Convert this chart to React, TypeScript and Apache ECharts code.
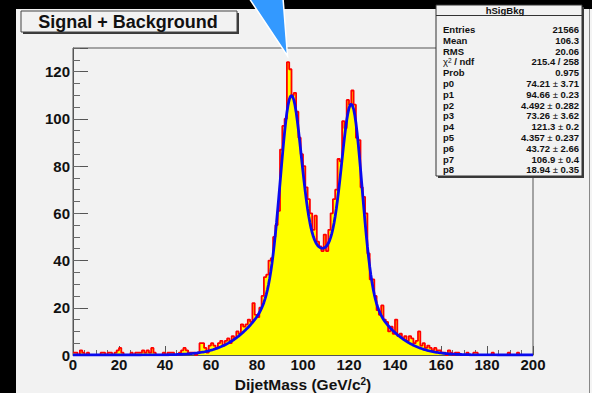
import React, { useEffect, useRef } from "react";
import * as echarts from "echarts";

// DijetMass histogram: 200 bins of 1 GeV/c^2 from 0 to 200
const binEdgesLow = 0;
const binWidth = 1;
const counts: number[] = [
  1, 1, 0, 2, 1, 0, 1, 0, 0, 0,
  0, 0, 1, 1, 0, 1, 1, 0, 1, 2,
  3, 1, 0, 0, 0, 1, 0, 1, 1, 1,
  2, 1, 2, 1, 3, 1, 0, 0, 0, 1,
  0, 1, 1, 1, 0, 0, 1, 2, 3, 2,
  1, 1, 1, 0, 1, 5, 5, 3, 1, 4,
  5, 4, 3, 5, 6, 4, 6, 7, 5, 8,
  7, 10, 9, 13, 12, 13, 15, 14, 22, 17,
  16, 20, 25, 33, 34, 40, 41, 50, 55, 61,
  87, 97, 100, 124, 121, 110, 111, 103, 92, 85,
  80, 71, 66, 60, 53, 59, 48, 46, 44, 51,
  44, 53, 60, 66, 70, 83, 82, 99, 96, 108,
  106, 112, 106, 92, 91, 71, 67, 60, 43, 32,
  32, 25, 19, 17, 21, 15, 14, 10, 12, 9,
  15, 8, 9, 7, 8, 6, 8, 7, 5, 6,
  10, 4, 5, 3, 4, 3, 2, 3, 2, 2,
  1, 1, 0, 2, 1, 0, 1, 1, 0, 0,
  0, 1, 0, 0, 1, 1, 0, 0, 0, 0,
  0, 0, 1, 0, 0, 0, 0, 0, 0, 1,
  0, 0, 0, 1, 0, 0, 0, 0, 0, 0,
];

// fitted parameters (two signal Gaussians + broad background Gaussian)
const fitParams = [74.21, 94.66, 4.492, 73.26, 121.3, 4.357, 43.72, 106.9, 18.94];
const fitStep = 0.5;

const statsTitle = "hSigBkg";
const statsNames = ["Entries", "Mean", "RMS", "chi2", "Prob", "p0", "p1", "p2", "p3", "p4", "p5", "p6", "p7", "p8"];
const statsValues = [
  "21566", "106.3", "20.06", "215.4 / 258", "0.975",
  "74.21 ± 3.71", "94.66 ± 0.23", "4.492 ± 0.282", "73.26 ± 3.62", "121.3 ± 0.2",
  "4.357 ± 0.237", "43.72 ± 2.66", "106.9 ± 0.4", "18.94 ± 0.35",
];

const xMin = 0;
const xMax = 200;
const yMin = 0;
const yMax = 130;

const FONT = "'Liberation Sans', Arial, Helvetica, sans-serif";

function gaus(x: number, a: number, m: number, s: number) {
  const z = (x - m) / s;
  return a * Math.exp(-0.5 * z * z);
}

function fitValue(x: number) {
  const p = fitParams;
  return gaus(x, p[0], p[1], p[2]) + gaus(x, p[3], p[4], p[5]) + gaus(x, p[6], p[7], p[8]);
}

function richStatValue(v: string) {
  const parts = v.split(" ± ");
  if (parts.length === 2) return `{b|${parts[0]}}{pm| ± }{b|${parts[1]}}`;
  return `{b|${v}}`;
}

export default function App() {
  const ref = useRef<HTMLDivElement>(null);

  useEffect(() => {
    document.body.style.margin = "0";
    if (!ref.current) return;
    const chart = echarts.init(ref.current, null, { renderer: "svg" });

    // histogram outline as step line through left bin edges
    const histData: number[][] = counts.map((c, i) => [binEdgesLow + i * binWidth, c]);
    histData.push([binEdgesLow + counts.length * binWidth, counts[counts.length - 1]]);

    const fitData: number[][] = [];
    for (let x = xMin; x <= xMax + 1e-9; x += fitStep) fitData.push([x, fitValue(x)]);

    // stats panel
    const boxX = 436;
    const boxY = 5;
    const boxW = 146;
    const rowH = 10.8;
    const firstRow = 29.5;
    const boxH = 171;
    const statEls: any[] = [
      { type: "rect", shape: { x: boxX + 2, y: boxY + 2, width: boxW, height: boxH }, style: { fill: "#3a3a3a" }, z: 100 },
      { type: "rect", shape: { x: boxX, y: boxY, width: boxW, height: boxH }, style: { fill: "#f2f2f2", stroke: "#333", lineWidth: 1 }, z: 101 },
      { type: "line", shape: { x1: boxX, y1: 15.5, x2: boxX + boxW, y2: 15.5 }, style: { stroke: "#333", lineWidth: 1 }, z: 102 },
      {
        type: "text", x: 505, y: 10.5, z: 103,
        style: { text: statsTitle, font: `bold 9.5px ${FONT}`, fill: "#111", align: "center", verticalAlign: "middle" },
      },
    ];
    statsNames.forEach((name, i) => {
      const y = firstRow + i * rowH;
      const label = name === "chi2" ? "{chi|χ}{sup|2}{b| / ndf}" : `{b|${name}}`;
      statEls.push({
        type: "text", x: 443, y, z: 103,
        style: {
          text: label, align: "left", verticalAlign: "middle", fill: "#111",
          rich: {
            b: { font: `bold 9.5px ${FONT}`, fill: "#111" },
            chi: { font: `9.5px ${FONT}`, fill: "#111" },
            sup: { font: `6.5px ${FONT}`, fill: "#111", verticalAlign: "top" },
          },
        },
      });
      statEls.push({
        type: "text", x: 579, y, z: 103,
        style: {
          text: richStatValue(statsValues[i]), align: "right", verticalAlign: "middle", fill: "#111",
          rich: {
            b: { font: `bold 9.5px ${FONT}`, fill: "#111" },
            pm: { font: `9.5px ${FONT}`, fill: "#111" },
          },
        },
      });
    });

    const titleEls: any[] = [
      { type: "rect", shape: { x: 23, y: 13, width: 216, height: 21 }, style: { fill: "#3a3a3a" }, z: 100 },
      { type: "rect", shape: { x: 21, y: 11, width: 216, height: 21 }, style: { fill: "#f2f2f2", stroke: "#444", lineWidth: 1 }, z: 101 },
      {
        type: "text", x: 128, y: 22, z: 102,
        style: { text: "Signal + Background", font: `bold 18px ${FONT}`, fill: "#111", align: "center", verticalAlign: "middle" },
      },
    ];

    const pointer = {
      type: "polygon", z: 110,
      shape: { points: [[249, -2], [283, -2], [287.5, 56]] },
      style: { fill: "#3399ff", stroke: "#ffffff", lineWidth: 1.5 },
    };

    chart.setOption({
      animation: false,
      backgroundColor: "transparent",
      grid: {
        left: 73, right: 59, top: 48, bottom: 38,
        outerBoundsMode: "none",
        show: true, borderColor: "#555", borderWidth: 1, backgroundColor: "transparent",
      },
      xAxis: {
        type: "value", min: xMin, max: xMax, interval: 20,
        axisLine: { lineStyle: { color: "#555", width: 1 } },
        axisTick: { inside: true, length: 9, lineStyle: { color: "#555" } },
        minorTick: { show: true, splitNumber: 4, length: 5, lineStyle: { color: "#666" } },
        splitLine: { show: false },
        axisLabel: { color: "#111", fontFamily: FONT, fontWeight: "bold", fontSize: 15, margin: 2 },
        name: "{a|DijetMass (GeV/c}{s|2}{a|)}",
        nameLocation: "middle",
        nameGap: 20,
        nameTextStyle: {
          rich: {
            a: { fontFamily: FONT, fontWeight: "bold", fontSize: 15.5, color: "#111" },
            s: { fontFamily: FONT, fontWeight: "bold", fontSize: 10, color: "#111", verticalAlign: "top" },
          },
        },
      },
      yAxis: [
        {
          type: "value", min: yMin, max: yMax, interval: 20, position: "left",
          axisLine: { show: true, lineStyle: { color: "#555", width: 1 } },
          axisTick: { show: true, inside: true, length: 15, lineStyle: { color: "#555" } },
          splitLine: { show: false },
          axisLabel: {
            color: "#111", fontFamily: FONT, fontWeight: "bold", fontSize: 15, margin: 3,
            formatter: (v: number) => (v % 20 === 0 ? String(v) : ""),
          },
        },
        {
          type: "value", min: yMin, max: yMax, interval: 5, position: "left", offset: 0,
          axisLine: { show: false },
          axisTick: { show: true, inside: true, length: 7, lineStyle: { color: "#666" } },
          axisLabel: { show: false },
          splitLine: { show: false },
        },
      ],
      series: [
        {
          type: "line", name: "hSigBkg", data: histData, step: "end", symbol: "none",
          yAxisIndex: 0,
          lineStyle: { color: "#ff0000", width: 1.8 },
          areaStyle: { color: "#ffff00", opacity: 1 },
          z: 2,
        },
        {
          type: "line", name: "fit", data: fitData, symbol: "none", smooth: false,
          yAxisIndex: 0,
          lineStyle: { color: "#0a0aee", width: 2.8 },
          z: 3,
        },
      ],
      graphic: [...titleEls, ...statEls, pointer],
    });

    return () => chart.dispose();
  }, []);

  return (
    <div style={{ position: "fixed", left: 0, top: 0, width: 592, height: 393, background: "#000", overflow: "hidden" }}>
      <div style={{ position: "absolute", left: 16, top: 9, width: 573, height: 384, background: "#f2f2f2" }} />
      <div style={{ position: "absolute", left: 589, top: 9, width: 1, height: 384, background: "#888" }} />
      <div style={{ position: "absolute", left: 590, top: 9, width: 2, height: 384, background: "#f4f4f4" }} />
      <div ref={ref} style={{ position: "absolute", left: 0, top: 0, width: 592, height: 393 }} />
    </div>
  );
}
